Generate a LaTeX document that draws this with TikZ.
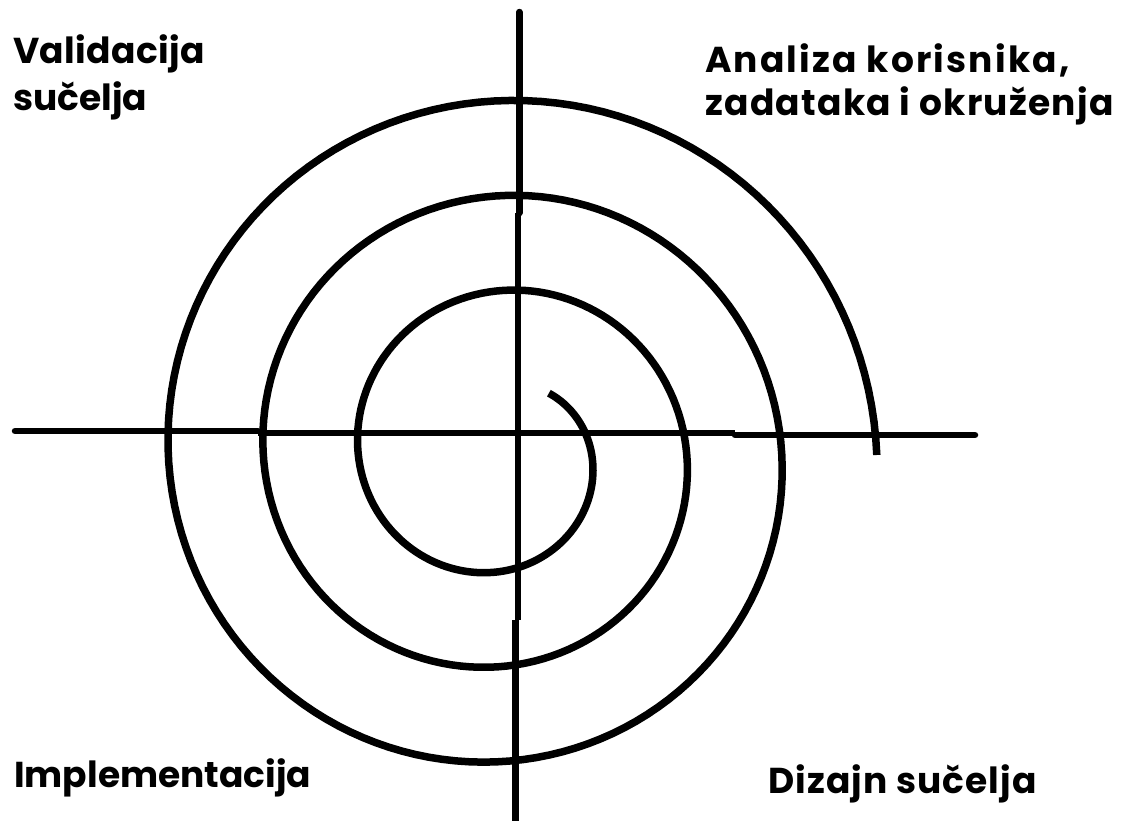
\documentclass[tikz,border=0pt]{standalone}
\usepackage{fontspec}
\setmainfont{Poppins}
\newfontfamily\lblfont{Poppins}
\newcommand\lspace[1]{\addfontfeatures{LetterSpace=#1}}
\begin{document}
\begin{tikzpicture}[x=1pt,y=-1pt,
  axisline/.style={line width=6.5pt,line cap=round},
  spiralline/.style={line width=7.5pt},
  lbl/.style={inner sep=0pt,anchor=base west,text=black,
    font=\lblfont\bfseries\fontsize{36}{44}\selectfont\lspace{#1}},
  lbl/.default=0]
\useasboundingbox (0,0) rectangle (1121,820);
% axes
\coordinate (h1) at (15,431);  \coordinate (h2) at (258,431);
\coordinate (h3) at (258,433); \coordinate (h4) at (735,433);
\coordinate (h5) at (735,435); \coordinate (h6) at (975,435);
\draw[axisline] (h1) -- (h2);
\draw[line width=6.5pt] (h3) -- (h4);
\draw[axisline] (h5) -- (h6);
\coordinate (v1) at (519.3,12);  \coordinate (v2) at (519.3,213);
\coordinate (v3) at (517.8,213); \coordinate (v4) at (517.8,620);
\coordinate (v5) at (515.5,620); \coordinate (v6) at (515.5,825);
\draw[axisline] (v1) -- (v2);
\draw[line width=6.5pt] (v3) -- (v4);
\draw[line width=6.5pt] (v5) -- (v6);
% spiral
\draw[spiralline] plot[domain=-51:1080,samples=450,variable=\t]
  ({498.8+(93+0.2639*\t)*cos(\t)},{455+(93+0.2639*\t)*sin(\t)});
% labels
\node[lbl=1] (val1) at (13,63) {Validacija};
\node[lbl=0] (val2) at (13,110) {sučelja};
\node[lbl=6] (ana1) at (705,72) {Analiza korisnika,};
\node[lbl=3.5] (ana2) at (705,115) {zadataka i okruženja};
\node[lbl=0] (imp) at (14,787) {Implementacija};
\node[lbl=3] (diz) at (768,793) {Dizajn sučelja};
\end{tikzpicture}
\end{document}
